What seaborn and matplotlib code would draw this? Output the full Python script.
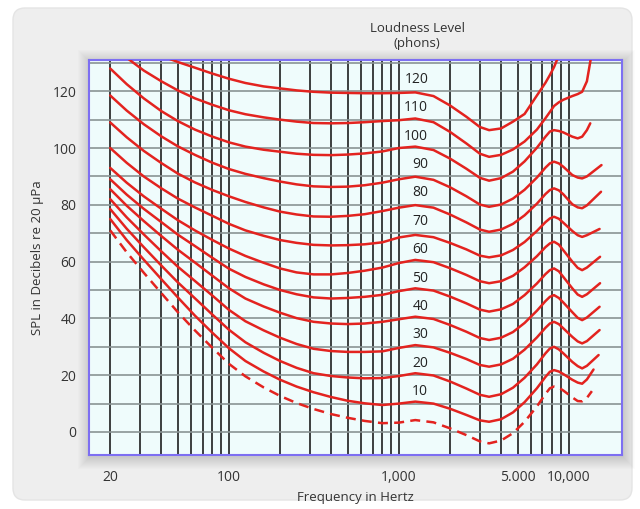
import matplotlib
matplotlib.use("Agg")
import matplotlib.pyplot as plt
from matplotlib.patches import FancyBboxPatch, Rectangle
from matplotlib.ticker import NullFormatter
import seaborn as sns
import numpy as np

nan = np.nan

# frequency grid (Hz) the contours were read on
FREQ_HZ = [20, 25, 31.5, 40, 50, 63, 80, 100, 125, 160, 200, 250, 315, 400, 500, 630, 800,
           1000, 1250, 1600, 2000, 2500, 3000, 3400, 4000, 4700, 5500, 6500, 7300, 7750, 8200, 8750,
           9300, 10500, 11300, 12000, 12800]

# SPL (dB) of each equal-loudness contour on FREQ_HZ
spl_threshold = [71, 63.3, 56.1, 48.9, 42.2, 35.8, 29.6, 24, 19.6, 15.7, 12.7, 10.2, 8.1, 6.3, 5, 3.9, 3.1,
                 3.3, 4.2, 3.4, 1.3, -1.1, -3.3, -4, -3, -0.4, 3.6, 9, 13.4, 15.4, 16, 15.6,
                 14.6, 12.2, 10.9, 10.8, 12]
spl_10 = [75, 67.6, 60.7, 53.8, 47.4, 41, 34.9, 29.5, 25, 21.3, 18.4, 16, 14, 12.3, 11, 10.1, 9.5,
          10, 10.7, 10, 8.2, 6, 4.1, 3.6, 4.5, 6.9, 10.5, 15.4, 19.4, 21.2, 21.8, 21.3,
          20.4, 18.4, 17.4, 17, 18.5]
spl_20 = [78.5, 71.6, 65.1, 58.6, 52.7, 47.1, 41.3, 36, 31.6, 27.9, 25, 22.6, 20.7, 19.7, 19.2, 18.9, 19,
          19.7, 20.7, 19.9, 17.8, 15.3, 13.1, 12.4, 13.3, 15.6, 19.1, 23.8, 27.7, 29.4, 30, 29.1,
          27.7, 24.7, 23.2, 22.4, 23.3]
spl_30 = [82, 75.6, 69.6, 63.6, 58.2, 53.2, 48, 43, 39, 35.8, 33.2, 31, 29.3, 28.5, 28.2, 28.2, 28.4,
          29.6, 30.6, 29.8, 27.9, 25.7, 23.6, 23, 23.8, 25.8, 29, 33.3, 36.7, 38.2, 38.8, 38,
          36.5, 33.5, 31.9, 31.2, 32]
spl_40 = [85.5, 79.7, 74.3, 69, 64.2, 59.7, 55, 50.6, 47, 44.2, 42, 40.1, 38.8, 38.2, 38, 38.2, 38.8,
          39.7, 40.6, 39.8, 37.7, 35.3, 33.1, 32.4, 33.2, 35.2, 38.4, 42.7, 46.1, 47.6, 48.2, 47.2,
          45.6, 42.2, 40.2, 39.4, 40.3]
spl_50 = [89, 83.6, 78.6, 73.9, 69.5, 65.5, 61.3, 57.5, 54.6, 52, 50, 48.5, 47.4, 47, 47.2, 47.6, 48.3,
          49.6, 50.6, 49.8, 47.7, 45.3, 43.1, 42.4, 43.2, 45.1, 48.2, 52.3, 55.6, 57, 57.6, 56.6,
          54.6, 50.6, 48.4, 47.6, 48.5]
spl_60 = [93, 87.8, 83, 78.6, 74.6, 71, 67.6, 64.6, 62, 59.6, 57.6, 56.2, 55.5, 55.5, 56, 56.8, 57.9,
          59.5, 60.6, 59.8, 57.7, 55.3, 53.1, 52.4, 53.1, 55, 58, 61.9, 65.1, 66.4, 67, 66,
          64, 60, 57.8, 57, 57.9]
spl_70 = [100, 94.8, 90, 85.8, 82.2, 79.1, 76.1, 73.3, 71, 69.1, 67.6, 66.6, 65.9, 65.7, 65.8, 66.1, 66.8,
          68.5, 69.4, 68.6, 66.6, 64.3, 62.1, 61.5, 62.2, 64.1, 66.9, 70.8, 73.9, 75.2, 75.8, 75.1,
          73.7, 70.8, 69.3, 68.7, 69.3]
spl_80 = [109, 103.8, 99, 94.7, 91, 87.9, 85.2, 83, 81, 79.1, 77.6, 76.6, 75.9, 75.8, 76.1, 76.7, 77.8,
          79, 79.9, 79, 76.6, 73.8, 71.3, 70.5, 71.3, 73.3, 76.3, 80.4, 83.8, 85.2, 85.8, 85.1,
          83.7, 80.2, 79.1, 78.8, 79.8]
spl_90 = [118.5, 113.2, 108.4, 104.1, 100.6, 97.6, 94.8, 92.6, 90.9, 89.4, 88.2, 87.2, 86.5, 86.3, 86.4, 86.9, 87.8,
          89, 89.9, 88.8, 86.2, 83, 80.1, 79.3, 80.1, 82.2, 85.3, 89.6, 93.1, 94.6, 95.2, 94.6,
          93.4, 90.5, 89.6, 89.3, 90]
spl_100 = [128, 122.5, 117.5, 113, 109.5, 106.5, 104, 102, 100.5, 99.4, 98.7, 98, 97.6, 97.5, 97.7, 98.1, 98.8,
           100, 100.5, 99.3, 96.3, 92.7, 89.5, 88.5, 89.4, 91.7, 95.3, 100.1, 104, 105.8, 106.3, 106,
           105.5, 104, 103.4, 104, 106.3]
spl_110 = [nan, 131.8, 127.3, 123.5, 120.3, 117.5, 115.2, 113.3, 111.9, 110.8, 110, 109.3, 108.8, 108.7, 108.8, 109.1, 109.5,
           109.8, 110.4, 109.1, 105.7, 101.6, 98, 96.9, 97.6, 99.5, 102.3, 106.5, 110.5, 112.7, 114.8, 116.1,
           117, 118.3, 119, 119.8, 123.5]
spl_120 = [nan, nan, nan, 132.5, 130.3, 128.3, 126.2, 124.4, 122.9, 121.7, 121, 120.3, 119.8, 119.5, 119.4, 119.3, 119.3,
           119.4, 119.6, 118.3, 115, 111, 107.4, 106.3, 106.9, 109.3, 112, 118.5, 123, 125.7, 128.5, nan,
           nan, nan, nan, nan, nan]

CURVES = [spl_threshold, spl_10, spl_20, spl_30, spl_40, spl_50, spl_60,
          spl_70, spl_80, spl_90, spl_100, spl_110, spl_120]
PHONS = [None, 10, 20, 30, 40, 50, 60, 70, 80, 90, 100, 110, 120]
# last point of every contour (Hz, dB)
END_HZ = [13700, 14000, 15000, 15200, 15200, 15300, 15300, 15200, 15500, 15600, 13400, 13500, 8600]
END_DB = [14.4, 22, 27.1, 35.9, 44.1, 52.4, 61.7, 71.5, 84.6, 94, 108.7, 131.5, 131.5]

GRID_HZ = [20, 30, 40, 50, 60, 70, 80, 90, 100, 200, 300, 400, 500, 600, 700, 800, 900, 1000,
           2000, 3000, 4000, 5000, 6000, 7000, 8000, 9000, 10000]
TICK_HZ = [20, 100, 1000, 5000, 10000]
TICK_LABELS = ["20", "100", "1,000", "5.000", "10,000"]

RED = "#e3231f"

sns.set_style("white")
plt.rcParams["font.family"] = ["Open Sans", "DejaVu Sans"]

W, H = 640, 509
fig = plt.figure(figsize=(W / 100, H / 100), dpi=100)
fig.patch.set_facecolor("white")

# background panel + soft shadow behind the plot
bg = fig.add_axes([0, 0, 1, 1])
bg.set_xlim(0, W)
bg.set_ylim(H, 0)
bg.axis("off")
bg.add_patch(FancyBboxPatch((13, 8), 619, 492, boxstyle="round,pad=0,rounding_size=12",
                            facecolor="#eeeeee", edgecolor="#e4e4e4", lw=1))
for k in range(1, 13):
    bg.add_patch(Rectangle((89 - k + 1, 60 - k + 2), 533 + 2 * k, 395 + 2 * k,
                           facecolor="black", alpha=0.01, lw=0))

ax = fig.add_axes([89 / W, 1 - 455 / H, 533 / W, 395 / H])
ax.set_facecolor("#effcfc")

for vals, phon, ehz, edb in zip(CURVES, PHONS, END_HZ, END_DB):
    hz = [f for f, v in zip(FREQ_HZ, vals) if not np.isnan(v)] + [ehz]
    db = [v for v in vals if not np.isnan(v)] + [edb]
    ls = (0, (4, 2.5)) if phon is None else "-"
    sns.lineplot(x=hz, y=db, ax=ax, color=RED, linewidth=1.8, linestyle=ls,
                 sort=False, estimator=None, zorder=4)
    if phon is not None:
        ax.text(1490, phon + 4.2, str(phon), ha="right", va="center",
                fontsize=10, color="#222222", zorder=5)

ax.set_xscale("log")
ax.set_xlim(15, 20600)
ax.set_ylim(-8.1, 131)

ax.set_xticks(TICK_HZ)
ax.set_xticklabels(TICK_LABELS)
ax.set_xticks(GRID_HZ, minor=True)
ax.xaxis.set_minor_formatter(NullFormatter())
ax.set_yticks(range(0, 121, 20))
ax.set_yticks(range(10, 131, 20), minor=True)

ax.grid(axis="x", which="both", color="#1e1e1e", linewidth=1.2, zorder=2)
ax.grid(axis="y", which="both", color="#8a9494", linewidth=1.2, zorder=1)
ax.set_axisbelow(True)

ax.tick_params(axis="both", which="both", length=0, labelsize=10, colors="#333333")
ax.tick_params(axis="x", pad=11)
ax.tick_params(axis="y", pad=9)

for sp in ax.spines.values():
    sp.set_color("#7d6ff2")
    sp.set_linewidth(1.5)

ax.set_xlabel("Frequency in Hertz", fontsize=9.5, color="#333333", labelpad=4)
ax.set_ylabel("SPL in Decibels re 20 µPa", fontsize=9.5, color="#333333", labelpad=6)

fig.text(417 / W, 1 - 28 / H, "Loudness Level", ha="center", va="center", fontsize=9.5, color="#333333")
fig.text(417 / W, 1 - 44 / H, "(phons)", ha="center", va="center", fontsize=9.5, color="#333333")

fig.savefig("out.png", dpi=100, facecolor=fig.get_facecolor())
